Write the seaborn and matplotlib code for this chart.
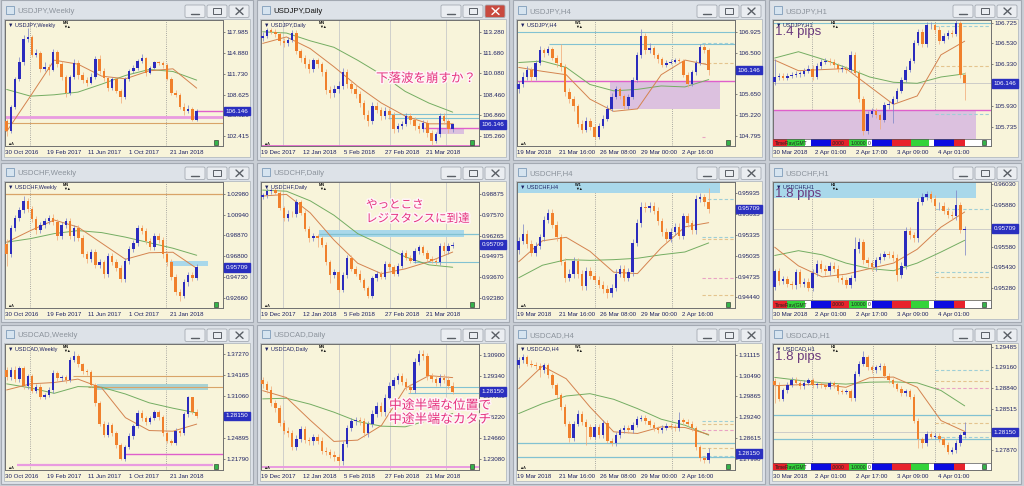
import numpy as np
import seaborn as sns
import matplotlib.pyplot as plt
from matplotlib import patches, patheffects

# ------------------------------------------------------------------ data
jpy_bid, chf_bid, cad_bid = 106.146, 0.95709, 1.28150

weekly_dates = ["30 Oct 2016", "19 Feb 2017", "11 Jun 2017", "1 Oct 2017", "21 Jan 2018"]
daily_dates = ["19 Dec 2017", "12 Jan 2018", "5 Feb 2018", "27 Feb 2018", "21 Mar 2018"]
h4_dates = ["19 Mar 2018", "21 Mar 16:00", "26 Mar 08:00", "29 Mar 00:00", "2 Apr 16:00"]
h1_dates = ["30 Mar 2018", "2 Apr 01:00", "2 Apr 17:00", "3 Apr 09:00", "4 Apr 01:00"]

# USDJPY weekly
jpy_w_open0 = 104.6
jpy_w_close = [103.1, 106.7, 110.9, 113.5, 117.0, 117.3, 114.6, 114.9, 112.5, 112.8,
               112.3, 115.0, 113.2, 111.3, 108.9, 111.2, 113.4, 111.6, 110.8, 110.4,
               111.3, 114.0, 112.2, 111.1, 109.6, 110.9, 109.2, 108.3, 111.0, 112.2,
               112.6, 113.6, 114.1, 111.9, 112.6, 113.5, 113.3, 113.0, 111.0, 108.8,
               108.6, 106.8, 106.2, 106.5, 104.8, 106.15]
jpy_w_high = [105.0, 107.0, 111.3, 114.2, 117.6, 118.6, 117.6, 115.5, 115.2, 113.5,
              113.2, 115.5, 115.3, 113.6, 111.5, 111.6, 114.0, 113.8, 112.0, 111.3,
              111.8, 114.4, 114.5, 112.6, 111.4, 111.3, 111.1, 109.5, 111.3, 112.5,
              113.0, 114.0, 114.7, 114.3, 112.9, 113.7, 113.7, 113.6, 113.3, 111.2,
              109.3, 108.9, 107.3, 107.0, 106.7, 106.4]
jpy_w_low = [102.4, 102.8, 106.5, 110.6, 113.1, 116.5, 114.3, 114.3, 112.0, 112.2,
             111.6, 112.1, 112.8, 110.8, 108.2, 108.6, 110.9, 111.0, 110.3, 109.9,
             110.2, 111.0, 111.7, 110.7, 109.2, 109.3, 108.8, 107.3, 108.0, 110.7,
             111.9, 112.3, 113.3, 111.4, 111.7, 112.4, 113.0, 112.6, 110.8, 108.5,
             108.2, 106.4, 105.6, 105.9, 104.6, 104.6]
jpy_w_fast = [103.1, 108.4, 113.8, 113.2, 111.4, 111.0, 112.2, 112.5, 109.6]
jpy_w_slow = [109.4, 108.4, 108.6, 109.0, 110.2, 111.5, 112.4, 112.1, 110.8]
jpy_w_ticks = [117.985, 114.880, 111.730, 108.625, 105.520, 102.415]
jpy_w_levels = [105.3, 104.3, 106.2]

# USDJPY daily
jpy_d_open0 = 112.8
jpy_d_close = [113.0, 113.4, 113.3, 113.1, 112.6, 112.4, 112.7, 113.2, 111.8, 111.3,
               110.8, 110.4, 111.1, 110.8, 110.2, 108.8, 108.6, 108.9, 109.1, 110.2,
               109.3, 108.9, 108.5, 107.8, 106.9, 106.4, 107.6, 107.3, 106.8, 107.2,
               106.9, 105.8, 106.0, 106.2, 106.8, 106.5, 106.0, 105.8, 106.3, 105.5,
               104.9, 105.4, 106.8, 106.4, 105.8, 106.15]
jpy_d_high = [113.3, 113.6, 113.6, 113.5, 113.3, 112.8, 112.9, 113.4, 113.4, 112.0,
              111.5, 111.2, 111.3, 111.3, 111.0, 110.4, 109.1, 109.2, 109.5, 110.5,
              110.4, 109.6, 109.2, 108.7, 108.0, 107.3, 107.9, 107.9, 107.5, 107.5,
              107.4, 107.1, 106.3, 106.4, 107.0, 107.0, 106.7, 106.3, 106.5, 106.5,
              105.7, 105.6, 107.0, 107.0, 106.6, 106.3]
jpy_d_low = [112.6, 112.8, 113.1, 112.9, 112.3, 112.1, 112.2, 112.5, 111.6, 111.0,
             110.5, 110.1, 110.2, 110.5, 109.9, 108.5, 108.2, 108.3, 108.6, 108.9,
             109.0, 108.6, 108.2, 107.5, 106.6, 106.0, 106.2, 107.0, 106.5, 106.6,
             106.6, 105.5, 105.6, 105.8, 106.0, 106.2, 105.7, 105.5, 105.6, 105.2,
             104.6, 104.7, 105.2, 106.2, 105.5, 105.6]
jpy_d_fast = [112.4, 112.9, 112.0, 110.6, 109.1, 107.8, 106.8, 106.2, 106.2]
jpy_d_slow = [113.3, 113.2, 112.6, 112.1, 111.1, 110.0, 108.7, 107.8, 107.1]
jpy_d_ticks = [113.280, 111.680, 110.080, 108.460, 106.860, 105.260]
jpy_d_levels = [106.93, 106.62, 105.90, 104.52]
jpy_d_zone = [105.40, 105.90]
jpy_d_note = ["下落波を崩すか？"]

# USDJPY H4
jpy_h4_open0 = 105.75
jpy_h4_close = [105.85, 106.0, 106.15, 106.0, 106.3, 106.55, 106.5, 106.58, 106.4, 106.28,
                106.2, 105.7, 105.55, 105.4, 105.05, 104.92, 105.1, 104.98, 104.78, 105.0,
                105.15, 105.35, 105.6, 105.75, 105.62, 105.4, 105.6, 105.95, 106.45, 106.85,
                106.55, 106.6, 106.45, 106.38, 106.25, 106.3, 106.32, 106.35, 106.33, 106.05,
                105.85, 106.1, 106.3, 106.62, 106.55, 106.15]
jpy_h4_high = [105.92, 106.1, 106.22, 106.2, 106.36, 106.63, 106.6, 106.64, 106.62, 106.45,
               106.68, 106.26, 105.78, 105.62, 105.45, 105.12, 105.18, 105.16, 105.04, 105.06,
               105.22, 105.42, 105.68, 105.82, 105.8, 105.66, 105.66, 106.0, 106.52, 106.99,
               106.9, 106.7, 106.64, 106.5, 106.42, 106.36, 106.38, 106.4, 106.4, 106.38,
               106.1, 106.15, 106.36, 106.68, 106.68, 106.6]
jpy_h4_low = [105.68, 105.8, 105.95, 105.93, 105.95, 106.25, 106.42, 106.45, 106.35, 106.2,
              106.12, 105.62, 105.48, 105.3, 104.98, 104.85, 104.88, 104.92, 104.74, 104.74,
              104.95, 105.1, 105.3, 105.55, 105.56, 105.34, 105.35, 105.55, 105.9, 106.4,
              106.48, 106.5, 106.4, 106.3, 106.2, 106.2, 106.26, 106.28, 106.28, 106.0,
              105.8, 105.82, 106.05, 106.25, 106.5, 106.05]
jpy_h4_fast = [106.2, 106.12, 106.05, 105.55, 105.3, 105.35, 106.05, 106.35, 106.25]
jpy_h4_slow = [106.3, 106.33, 106.2, 105.85, 105.72, 105.75, 105.82, 105.8, 105.95]
jpy_h4_ticks = [106.925, 106.500, 105.650, 105.220, 104.795]
jpy_h4_levels = [106.92, 106.67, 105.93]
jpy_h4_zone = [105.34, 105.93]
jpy_h4_dashes = [106.69, 106.30, 104.78]

# USDJPY H1
jpy_h1_open0 = 106.16
jpy_h1_close = [106.21, 106.22, 106.2, 106.22, 106.23, 106.24, 106.24, 106.27, 106.29, 106.21,
                106.31, 106.35, 106.36, 106.35, 106.32, 106.29, 106.29, 106.28, 106.42, 106.25,
                106.0, 105.7, 105.86, 105.89, 105.85, 105.8, 105.94, 105.95, 106.0, 106.08,
                106.18, 106.28, 106.36, 106.53, 106.64, 106.52, 106.7, 106.7, 106.66, 106.55,
                106.6, 106.63, 106.62, 106.72, 106.23, 106.15]
jpy_h1_high = [106.38, 106.25, 106.25, 106.25, 106.26, 106.27, 106.27, 106.3, 106.32, 106.32,
               106.34, 106.38, 106.39, 106.39, 106.38, 106.34, 106.32, 106.31, 106.46, 106.45,
               106.28, 106.03, 105.89, 105.92, 105.92, 105.87, 105.97, 105.98, 106.03, 106.11,
               106.21, 106.31, 106.39, 106.56, 106.67, 106.67, 106.73, 106.73, 106.72, 106.69,
               106.63, 106.66, 106.66, 106.77, 106.74, 106.26]
jpy_h1_low = [106.13, 106.18, 106.18, 106.18, 106.2, 106.21, 106.21, 106.22, 106.25, 106.18,
              106.19, 106.29, 106.33, 106.32, 106.29, 106.26, 106.26, 106.25, 106.26, 106.22,
              105.97, 105.66, 105.67, 105.83, 105.82, 105.72, 105.78, 105.91, 105.77, 105.97,
              106.06, 106.16, 106.26, 106.34, 106.51, 106.49, 106.49, 106.67, 106.63, 106.52,
              106.53, 106.57, 106.59, 106.6, 106.2, 105.99]
jpy_h1_fast = [106.37, 106.27, 106.28, 106.29, 106.12, 105.95, 106.03, 106.42, 106.55]
jpy_h1_slow = [106.39, 106.45, 106.38, 106.3, 106.21, 106.16, 106.15, 106.21, 106.24]
jpy_h1_ticks = [106.725, 106.530, 106.330, 105.930, 105.735]
jpy_h1_levels = [106.72, 105.90, 106.15]
jpy_h1_zone = [105.40, 105.90]
jpy_h1_dashes = [106.69, 106.31, 105.86]

# USDCHF weekly
chf_w_open0 = 0.9800
chf_w_close = [0.9700, 0.9960, 1.0060, 1.0140, 1.0230, 1.0150, 1.0050, 0.9940, 0.9990, 1.0030,
               1.0060, 1.0020, 0.9880, 0.9990, 1.0030, 0.9880, 0.9960, 0.9860, 0.9700, 0.9650,
               0.9720, 0.9590, 0.9620, 0.9500, 0.9680, 0.9620, 0.9560, 0.9450, 0.9630, 0.9750,
               0.9810, 0.9960, 0.9930, 0.9830, 0.9770, 0.9880, 0.9840, 0.9700, 0.9620, 0.9470,
               0.9330, 0.9290, 0.9420, 0.9490, 0.9460, 0.9571]
chf_w_high = [0.985, 0.999, 1.009, 1.017, 1.028, 1.026, 1.018, 1.008, 1.002, 1.006,
              1.009, 1.010, 1.005, 1.002, 1.006, 1.006, 0.999, 0.999, 0.989, 0.973,
              0.975, 0.975, 0.965, 0.964, 0.971, 0.971, 0.965, 0.959, 0.966, 0.978,
              0.984, 0.999, 0.999, 0.996, 0.986, 0.991, 0.991, 0.987, 0.973, 0.965,
              0.950, 0.936, 0.945, 0.952, 0.952, 0.960]
chf_w_low = [0.958, 0.967, 0.993, 1.003, 1.011, 1.012, 1.002, 0.990, 0.991, 0.996,
             1.000, 0.999, 0.984, 0.985, 0.996, 0.985, 0.983, 0.983, 0.967, 0.961,
             0.962, 0.956, 0.956, 0.946, 0.947, 0.959, 0.953, 0.942, 0.942, 0.960,
             0.972, 0.978, 0.990, 0.980, 0.974, 0.974, 0.981, 0.966, 0.958, 0.944,
             0.930, 0.924, 0.927, 0.939, 0.943, 0.944]
chf_w_fast = [0.982, 0.9935, 1.004, 0.997, 0.981, 0.965, 0.9715, 0.972, 0.956]
chf_w_slow = [0.982, 0.9855, 0.9905, 0.9935, 0.9915, 0.987, 0.9815, 0.976, 0.969]
chf_w_ticks = [1.02980, 1.00940, 0.98870, 0.96800, 0.94730, 0.92660]
chf_w_levels = [1.0298]
chf_w_zone = [0.9588, 0.9637]

# USDCHF daily
chf_d_open0 = 0.9870
chf_d_close = [0.9880, 0.9905, 0.9910, 0.9895, 0.9800, 0.9735, 0.9765, 0.9760, 0.9835, 0.9770,
               0.9670, 0.9610, 0.9625, 0.9610, 0.9570, 0.9460, 0.9380, 0.9400, 0.9290, 0.9380,
               0.9490, 0.9420, 0.9390, 0.9350, 0.9300, 0.9250, 0.9360, 0.9390, 0.9370, 0.9450,
               0.9430, 0.9390, 0.9440, 0.9520, 0.9490, 0.9470, 0.9530, 0.9555, 0.9520, 0.9480,
               0.9470, 0.9460, 0.9565, 0.9530, 0.9565, 0.9571]
chf_d_high = [0.9895, 0.9922, 0.9928, 0.9925, 0.9910, 0.9815, 0.9785, 0.9782, 0.9855, 0.9850,
              0.9785, 0.9685, 0.9642, 0.9640, 0.9625, 0.9585, 0.9475, 0.9418, 0.9410, 0.9398,
              0.9508, 0.9505, 0.9435, 0.9410, 0.9365, 0.9315, 0.9378, 0.9408, 0.9405, 0.9468,
              0.9465, 0.9445, 0.9458, 0.9538, 0.9535, 0.9505, 0.9548, 0.9572, 0.9570, 0.9538,
              0.9498, 0.9485, 0.9583, 0.9585, 0.9582, 0.9588]
chf_d_low = [0.9855, 0.9865, 0.9890, 0.9880, 0.9785, 0.9720, 0.9718, 0.9745, 0.9742, 0.9755,
             0.9655, 0.9590, 0.9595, 0.9555, 0.9555, 0.9445, 0.9330, 0.9365, 0.9275, 0.9275,
             0.9365, 0.9405, 0.9375, 0.9335, 0.9285, 0.9235, 0.9235, 0.9345, 0.9355, 0.9355,
             0.9415, 0.9375, 0.9375, 0.9425, 0.9475, 0.9455, 0.9455, 0.9515, 0.9505, 0.9465,
             0.9455, 0.9445, 0.9445, 0.9515, 0.9515, 0.9550]
chf_d_fast = [0.9875, 0.9885, 0.977, 0.9600, 0.9455, 0.9390, 0.9420, 0.9465, 0.9525]
chf_d_slow = [0.9912, 0.9905, 0.9845, 0.9755, 0.9640, 0.9570, 0.9495, 0.9445, 0.9430]
chf_d_ticks = [0.98875, 0.97570, 0.96265, 0.94975, 0.93670, 0.92380]
chf_d_levels = [0.9637, 0.9462]
chf_d_zone = [0.9621, 0.9663]
chf_d_note = ["やっとこさ", "レジスタンスに到達"]

# USDCHF H4
chf_h4_open0 = 0.9512
chf_h4_close = [0.9525, 0.9535, 0.9520, 0.9508, 0.9518, 0.9530, 0.9555, 0.9565, 0.9548, 0.9530,
                0.9495, 0.9472, 0.9477, 0.9496, 0.9478, 0.9460, 0.9482, 0.9475, 0.9469, 0.9462,
                0.9456, 0.9450, 0.9458, 0.9478, 0.9485, 0.9472, 0.9480, 0.9522, 0.9550, 0.9574,
                0.9572, 0.9575, 0.9568, 0.9553, 0.9538, 0.9528, 0.9538, 0.9545, 0.9532, 0.9560,
                0.9550, 0.9540, 0.9585, 0.9588, 0.9580, 0.9571]
chf_h4_high = [0.9530, 0.9549, 0.9540, 0.9526, 0.9523, 0.9535, 0.9560, 0.9571, 0.9570, 0.9553,
               0.9535, 0.9500, 0.9485, 0.9502, 0.9500, 0.9483, 0.9487, 0.9487, 0.9480, 0.9474,
               0.9467, 0.9461, 0.9463, 0.9484, 0.9491, 0.9490, 0.9486, 0.9527, 0.9556, 0.9580,
               0.9581, 0.9580, 0.9580, 0.9573, 0.9558, 0.9543, 0.9543, 0.9550, 0.9550, 0.9565,
               0.9565, 0.9555, 0.9590, 0.9594, 0.9592, 0.9600]
chf_h4_low = [0.9506, 0.9520, 0.9515, 0.9503, 0.9503, 0.9513, 0.9525, 0.9550, 0.9543, 0.9525,
              0.9490, 0.9466, 0.9467, 0.9472, 0.9472, 0.9455, 0.9455, 0.9470, 0.9464, 0.9457,
              0.9450, 0.9443, 0.9445, 0.9453, 0.9473, 0.9467, 0.9467, 0.9475, 0.9517, 0.9545,
              0.9566, 0.9567, 0.9563, 0.9548, 0.9532, 0.9522, 0.9523, 0.9533, 0.9527, 0.9527,
              0.9545, 0.9535, 0.9535, 0.9580, 0.9575, 0.9565]
chf_h4_fast = [0.9495, 0.9525, 0.9530, 0.9510, 0.9480, 0.9478, 0.9515, 0.9545, 0.9551]
chf_h4_slow = [0.9472, 0.9490, 0.9498, 0.9497, 0.9498, 0.9500, 0.9505, 0.9509, 0.9522]
chf_h4_ticks = [0.95935, 0.95635, 0.95335, 0.95035, 0.94735, 0.94440]
chf_h4_zone = [0.9593, 0.9620]
chf_h4_dashes = [0.9585, 0.9531, 0.9527, 0.9471, 0.9447]

# USDCHF H1
chf_h1_open0 = 0.95290
chf_h1_close = [0.95400, 0.95330, 0.95345, 0.95310, 0.95300, 0.95395, 0.95310, 0.95325, 0.95280, 0.95390,
                0.95455, 0.95420, 0.95400, 0.95440, 0.95420, 0.95350, 0.95335, 0.95305, 0.95350, 0.95560,
                0.95610, 0.95480, 0.95460, 0.95430, 0.95480, 0.95505, 0.95525, 0.95520, 0.95500, 0.95375,
                0.95440, 0.95695, 0.95660, 0.95640, 0.95905, 0.95940, 0.95960, 0.95925, 0.95870, 0.95875,
                0.95840, 0.95810, 0.95800, 0.95880, 0.95700, 0.95709]
chf_h1_high = [0.95420, 0.95425, 0.95365, 0.95370, 0.95330, 0.95420, 0.95420, 0.95350, 0.95350, 0.95415,
               0.95480, 0.95480, 0.95445, 0.95465, 0.95465, 0.95445, 0.95375, 0.95360, 0.95375, 0.95650,
               0.95640, 0.95635, 0.95505, 0.95485, 0.95505, 0.95530, 0.95550, 0.95550, 0.95545, 0.95525,
               0.95465, 0.95720, 0.95720, 0.95685, 0.95930, 0.95965, 0.95985, 0.95985, 0.95950, 0.95900,
               0.95900, 0.95865, 0.95835, 0.95990, 0.95905, 0.95730]
chf_h1_low = [0.95265, 0.95305, 0.95310, 0.95285, 0.95275, 0.95275, 0.95285, 0.95290, 0.95255, 0.95255,
              0.95365, 0.95395, 0.95375, 0.95375, 0.95395, 0.95325, 0.95310, 0.95280, 0.95280, 0.95330,
              0.95535, 0.95455, 0.95435, 0.95405, 0.95405, 0.95460, 0.95480, 0.95495, 0.95475, 0.95330,
              0.95350, 0.95415, 0.95635, 0.95615, 0.95615, 0.95880, 0.95915, 0.95900, 0.95845, 0.95845,
              0.95815, 0.95785, 0.95775, 0.95775, 0.95675, 0.95520]
chf_h1_fast = [0.95575, 0.95440, 0.95360, 0.95380, 0.95420, 0.95460, 0.95560, 0.95720, 0.95830]
chf_h1_slow = [0.95515, 0.95550, 0.95520, 0.95460, 0.95420, 0.95405, 0.95460, 0.95540, 0.95625]
chf_h1_ticks = [0.96030, 0.95880, 0.95580, 0.95430, 0.95280]
chf_h1_levels = [0.95709]
chf_h1_zone = [0.95930, 0.96047]
chf_h1_dashes = [0.95855, 0.95396, 0.95360]

# USDCAD weekly
cad_w_open0 = 1.3500
cad_w_close = [1.3390, 1.3500, 1.3360, 1.3520, 1.3260, 1.3400, 1.3190, 1.3250, 1.3100, 1.3130,
               1.3200, 1.3450, 1.3370, 1.3390, 1.3350, 1.3650, 1.3700, 1.3580, 1.3480, 1.3460,
               1.3280, 1.3000, 1.2700, 1.2540, 1.2680, 1.2560, 1.2380, 1.2180, 1.2350, 1.2520,
               1.2660, 1.2860, 1.2780, 1.2720, 1.2780, 1.2870, 1.2800, 1.2560, 1.2450, 1.2420,
               1.2590, 1.2560, 1.2840, 1.3090, 1.2880, 1.2815]
cad_w_high = [1.3540, 1.3540, 1.3550, 1.3560, 1.3560, 1.3440, 1.3430, 1.3290, 1.3290, 1.3160,
              1.3240, 1.3490, 1.3480, 1.3420, 1.3420, 1.3690, 1.3780, 1.3730, 1.3600, 1.3510,
              1.3490, 1.3310, 1.3030, 1.2740, 1.2720, 1.2710, 1.2590, 1.2420, 1.2380, 1.2560,
              1.2700, 1.2900, 1.2900, 1.2810, 1.2820, 1.2910, 1.2900, 1.2830, 1.2590, 1.2480,
              1.2630, 1.2620, 1.2880, 1.3110, 1.3100, 1.2920]
cad_w_low = [1.3350, 1.3350, 1.3320, 1.3320, 1.3220, 1.3220, 1.3150, 1.3150, 1.3060, 1.3060,
             1.3100, 1.3160, 1.3330, 1.3330, 1.3310, 1.3320, 1.3610, 1.3540, 1.3440, 1.3420,
             1.3240, 1.2960, 1.2660, 1.2500, 1.2510, 1.2520, 1.2340, 1.2160, 1.2150, 1.2320,
             1.2480, 1.2630, 1.2740, 1.2680, 1.2690, 1.2750, 1.2760, 1.2520, 1.2410, 1.2380,
             1.2390, 1.2520, 1.2530, 1.2800, 1.2850, 1.2790]
cad_w_fast = [1.3200, 1.3290, 1.3310, 1.3360, 1.3230, 1.2790, 1.2600, 1.2590, 1.2695]
cad_w_slow = [1.3290, 1.3230, 1.3150, 1.3250, 1.3240, 1.3140, 1.3010, 1.2930, 1.2860]
cad_w_ticks = [1.37270, 1.34165, 1.31060, 1.24895, 1.21790]
cad_w_levels = [1.3402, 1.3239, 1.2253, 1.2096]
cad_w_zone = [1.3200, 1.3288]

# USDCAD daily
cad_d_open0 = 1.2900
cad_d_close = [1.2870, 1.2830, 1.2730, 1.2690, 1.2580, 1.2520, 1.2500, 1.2400, 1.2460, 1.2530,
               1.2450, 1.2440, 1.2470, 1.2445, 1.2370, 1.2360, 1.2340, 1.2320, 1.2290, 1.2420,
               1.2540, 1.2590, 1.2600, 1.2590, 1.2500, 1.2570, 1.2650, 1.2710, 1.2660, 1.2770,
               1.2860, 1.2900, 1.2930, 1.2890, 1.2850, 1.2830, 1.3040, 1.3100, 1.3080, 1.2930,
               1.2910, 1.2880, 1.2920, 1.2905, 1.2860, 1.2815]
cad_d_high = [1.2925, 1.2895, 1.2855, 1.2755, 1.2715, 1.2605, 1.2545, 1.2525, 1.2485, 1.2555,
              1.2555, 1.2470, 1.2495, 1.2495, 1.2470, 1.2395, 1.2385, 1.2365, 1.2345, 1.2445,
              1.2565, 1.2615, 1.2625, 1.2625, 1.2615, 1.2595, 1.2675, 1.2735, 1.2735, 1.2795,
              1.2885, 1.2925, 1.2955, 1.2955, 1.2915, 1.2875, 1.3065, 1.3125, 1.3125, 1.3105,
              1.2955, 1.2935, 1.2945, 1.2945, 1.2930, 1.2885]
cad_d_low = [1.2845, 1.2805, 1.2705, 1.2665, 1.2555, 1.2495, 1.2475, 1.2375, 1.2375, 1.2435,
             1.2425, 1.2415, 1.2415, 1.2420, 1.2345, 1.2335, 1.2315, 1.2295, 1.2262, 1.2265,
             1.2395, 1.2515, 1.2565, 1.2565, 1.2475, 1.2475, 1.2545, 1.2625, 1.2635, 1.2635,
             1.2745, 1.2835, 1.2875, 1.2865, 1.2825, 1.2805, 1.2805, 1.3015, 1.3055, 1.2905,
             1.2885, 1.2855, 1.2855, 1.2880, 1.2835, 1.2800]
cad_d_fast = [1.2822, 1.2770, 1.2600, 1.2440, 1.2450, 1.2560, 1.2840, 1.2935, 1.2920]
cad_d_slow = [1.2760, 1.2765, 1.2720, 1.2660, 1.2590, 1.2555, 1.2550, 1.2600, 1.2650]
cad_d_ticks = [1.30900, 1.29340, 1.27780, 1.26220, 1.24660, 1.23080]
cad_d_levels = [1.2847, 1.2808, 1.2245]
cad_d_note = ["中途半端な位置で", "中途半端なカタチ"]

# USDCAD H4
cad_h4_open0 = 1.3080
cad_h4_close = [1.3095, 1.3105, 1.3085, 1.3082, 1.3078, 1.3065, 1.3080, 1.3050, 1.3020, 1.2990,
                1.2955, 1.2905, 1.2860, 1.2905, 1.2935, 1.2910, 1.2895, 1.2865, 1.2895, 1.2870,
                1.2908, 1.2853, 1.2845, 1.2870, 1.2885, 1.2892, 1.2885, 1.2902, 1.2920, 1.2922,
                1.2912, 1.2902, 1.2890, 1.2885, 1.2893, 1.2898, 1.2895, 1.2890, 1.2915, 1.2910,
                1.2905, 1.2890, 1.2833, 1.2800, 1.2795, 1.2815]
cad_h4_high = [1.3105, 1.3115, 1.3112, 1.3095, 1.3090, 1.3087, 1.3088, 1.3088, 1.3058, 1.3028,
               1.2998, 1.2963, 1.2913, 1.2913, 1.2945, 1.2943, 1.2918, 1.2903, 1.2903, 1.2903,
               1.2916, 1.2916, 1.2861, 1.2878, 1.2893, 1.2900, 1.2900, 1.2910, 1.2928, 1.2930,
               1.2930, 1.2920, 1.2910, 1.2898, 1.2901, 1.2906, 1.2906, 1.2903, 1.2940, 1.2923,
               1.2918, 1.2913, 1.2898, 1.2841, 1.2808, 1.2830]
cad_h4_low = [1.3072, 1.3087, 1.3077, 1.3074, 1.3070, 1.3045, 1.3057, 1.3042, 1.3012, 1.2982,
              1.2947, 1.2897, 1.2850, 1.2852, 1.2897, 1.2902, 1.2840, 1.2857, 1.2857, 1.2862,
              1.2862, 1.2845, 1.2837, 1.2837, 1.2862, 1.2877, 1.2877, 1.2877, 1.2894, 1.2912,
              1.2904, 1.2894, 1.2882, 1.2877, 1.2877, 1.2885, 1.2887, 1.2882, 1.2882, 1.2902,
              1.2897, 1.2882, 1.2825, 1.2792, 1.2787, 1.2787]
cad_h4_fast = [1.3010, 1.3078, 1.3040, 1.2955, 1.2880, 1.2875, 1.2895, 1.2893, 1.2872]
cad_h4_slow = [1.2935, 1.2965, 1.2988, 1.2995, 1.2978, 1.2950, 1.2918, 1.2900, 1.2870]
cad_h4_ticks = [1.31115, 1.30490, 1.29865, 1.29240, 1.28615, 1.27990]
cad_h4_levels = [1.2845, 1.2805]
cad_h4_dashes = [1.2914, 1.2904, 1.2886, 1.2831, 1.2808]

# USDCAD H1
cad_h1_open0 = 1.28950
cad_h1_close = [1.28890, 1.28670, 1.28800, 1.28890, 1.28970, 1.28920, 1.28870, 1.28920, 1.28960, 1.28880,
                1.28900, 1.28880, 1.28860, 1.28910, 1.28880, 1.28790, 1.28780, 1.28790, 1.28680, 1.29060,
                1.29220, 1.29320, 1.29160, 1.29120, 1.29160, 1.29190, 1.29030, 1.28960, 1.28900, 1.28830,
                1.28760, 1.28790, 1.28700, 1.28330, 1.28040, 1.27980, 1.28120, 1.28080, 1.28090, 1.28040,
                1.27950, 1.27840, 1.27870, 1.27980, 1.28100, 1.28150]
cad_h1_high = [1.28990, 1.28930, 1.28840, 1.28930, 1.29010, 1.29010, 1.28960, 1.28960, 1.29000, 1.29000,
               1.28940, 1.28940, 1.28920, 1.28950, 1.28950, 1.28920, 1.28830, 1.28830, 1.28830, 1.29100,
               1.29260, 1.29420, 1.29360, 1.29200, 1.29200, 1.29230, 1.29230, 1.29070, 1.29000, 1.28940,
               1.28870, 1.28830, 1.28830, 1.28740, 1.28370, 1.28080, 1.28160, 1.28160, 1.28130, 1.28130,
               1.28080, 1.27990, 1.27910, 1.28020, 1.28140, 1.28300]
cad_h1_low = [1.28600, 1.28630, 1.28630, 1.28760, 1.28850, 1.28880, 1.28830, 1.28830, 1.28880, 1.28840,
              1.28840, 1.28840, 1.28820, 1.28820, 1.28840, 1.28750, 1.28740, 1.28740, 1.28640, 1.28640,
              1.29020, 1.29180, 1.29120, 1.29080, 1.29080, 1.29120, 1.28990, 1.28920, 1.28860, 1.28790,
              1.28720, 1.28720, 1.28660, 1.28290, 1.27900, 1.27900, 1.27940, 1.28040, 1.28040, 1.28000,
              1.27910, 1.27800, 1.27800, 1.27830, 1.27940, 1.28060]
cad_h1_fast = [1.28875, 1.28890, 1.28895, 1.28850, 1.29000, 1.29010, 1.28850, 1.28330, 1.28160]
cad_h1_slow = [1.29005, 1.28960, 1.28920, 1.28900, 1.28930, 1.28935, 1.28920, 1.28800, 1.28560]
cad_h1_ticks = [1.29485, 1.29160, 1.28840, 1.28515, 1.28190, 1.27870]
cad_h1_levels = [1.28417, 1.28041, 1.28150]
cad_h1_dashes = [1.2912, 1.2895, 1.2884, 1.2829, 1.2807]

pips_text = ["1.4 pips", "1.8 pips", "1.8 pips"]

# ------------------------------------------------------------------ style
CREAM = "#f8f4da"
FRAME = "#dde2e8"
NAVY = "#1d2163"
BULL, BEAR = "#2b2bbd", "#f0802c"
BULL_WICK, BEAR_WICK = "#8088c8", "#f2ad7c"
MA_FAST, MA_SLOW = "#d4834f", "#74ad62"
MAGENTA = "#df5fcb"
PINK_BAND = "#e99be0"
TAN = "#d9a468"
TEAL = "#82c2d2"
GREY = "#c6c6c6"
ZONE_PURPLE = "#dcc1df"
ZONE_BLUE = "#a9d8ea"
ZONE_TEAL = "#a9d2d2"
D_TEAL, D_TAN, D_PINK = "#9fcfd6", "#e4c48e", "#e9a3c4"
BID_BLUE = "#2a2fbf"
NOTE_PINK = "#e5337f"

X0_PX, STEP_PX = 6.7, 4.222          # first candle centre, candle spacing (panel px)


def px_to_idx(px):
    return (px - X0_PX) / STEP_PX


XL, XR = px_to_idx(5), px_to_idx(223)
DASH_W = px_to_idx(190)
DASH_H1 = px_to_idx(167)
DASH = (0, (3, 2))

SEPARATORS = {"W": [30, 166], "D": [26.7, 83.3, 134.3, 190], "H4": [82.7, 160], "H1": [44.3, 105.3, 166.7]}
DATES = {"W": weekly_dates, "D": daily_dates, "H4": h4_dates, "H1": h1_dates}
BADGE = {"W": "MN", "D": "MN", "H4": "W1", "H1": "H4"}
DATE_PX = [5, 47, 88, 129, 170]


def spec(title, tf, o0, c, h, l, f, s, ticks, ylim, bid, fmt, lines=(), zones=(), note=None, pips=None, active=False):
    return dict(title=title, tf=tf, open0=o0, close=c, high=h, low=l, fast=f, slow=s, ticks=ticks,
                ylim=ylim, bid=bid, fmt=fmt, lines=list(lines), zones=list(zones), note=note,
                pips=pips, active=active)


J, F = "{:.3f}", "{:.5f}"
PANELS = [
    spec("USDJPY,Weekly", "W", jpy_w_open0, jpy_w_close, jpy_w_high, jpy_w_low, jpy_w_fast, jpy_w_slow,
         jpy_w_ticks, (100.91, 119.83), jpy_bid, J,
         lines=[(jpy_w_levels[0], XL, XR, PINK_BAND, 2.0, "-"), (jpy_w_levels[1], XL, XR, TAN, 0.8, "-"),
                (jpy_w_levels[2], 44.6, XR, MAGENTA, 1.0, "-")]),
    spec("USDJPY,Daily", "D", jpy_d_open0, jpy_d_close, jpy_d_high, jpy_d_low, jpy_d_fast, jpy_d_slow,
         jpy_d_ticks, (104.49, 114.205), jpy_bid, J,
         lines=[(jpy_d_levels[0], 29.6, XR, TEAL, 0.8, "-"), (jpy_d_levels[1], 29.6, XR, TEAL, 0.8, "-"),
                (jpy_d_levels[2], 38.3, XR, MAGENTA, 1.0, "-"), (jpy_d_levels[3], XL, XR, MAGENTA, 1.2, "-")],
         zones=[(jpy_d_zone[0], jpy_d_zone[1], 41.4, 47.75, ZONE_PURPLE)],
         note=(jpy_d_note, 120, [78.5], 9.0), active=True),
    spec("USDJPY,H4", "H4", jpy_h4_open0, jpy_h4_close, jpy_h4_high, jpy_h4_low, jpy_h4_fast, jpy_h4_slow,
         jpy_h4_ticks, (104.590, 107.171), jpy_bid, J,
         lines=[(jpy_h4_levels[0], XL, XR, TEAL, 0.8, "-"), (jpy_h4_levels[1], 7.1, XR, TEAL, 0.8, "-"),
                (jpy_h4_levels[2], XL, XR, MAGENTA, 1.0, "-"),
                (jpy_h4_dashes[0], DASH_W, XR, D_TEAL, 0.8, DASH), (jpy_h4_dashes[1], DASH_W, XR, D_TAN, 0.8, DASH),
                (jpy_h4_dashes[2], DASH_W, XR - 7, D_PINK, 0.8, DASH)],
         zones=[(jpy_h4_zone[0], jpy_h4_zone[1], 21.7, 47.75, ZONE_PURPLE)]),
    spec("USDJPY,H1", "H1", jpy_h1_open0, jpy_h1_close, jpy_h1_high, jpy_h1_low, jpy_h1_fast, jpy_h1_slow,
         jpy_h1_ticks, (105.555, 106.751), jpy_bid, J,
         lines=[(jpy_h1_levels[0], XL, XR, TEAL, 0.8, "-"), (jpy_h1_levels[1], XL, XR, MAGENTA, 1.0, "-"),
                (jpy_h1_levels[2], XL, XR, GREY, 0.6, "-"),
                (jpy_h1_dashes[0], DASH_H1, XR, D_TEAL, 0.8, DASH), (jpy_h1_dashes[1], DASH_H1, XR, D_TAN, 0.8, DASH),
                (jpy_h1_dashes[2], DASH_H1, XR, D_TEAL, 0.8, DASH)],
         zones=[(jpy_h1_zone[0], jpy_h1_zone[1], XL, 47.75, ZONE_PURPLE)], pips=pips_text[0]),
    spec("USDCHF,Weekly", "W", chf_w_open0, chf_w_close, chf_w_high, chf_w_low, chf_w_fast, chf_w_slow,
         chf_w_ticks, (0.91668, 1.04171), chf_bid, F,
         lines=[(chf_w_levels[0], XL, XR, TAN, 0.9, "-")],
         zones=[(chf_w_zone[0], chf_w_zone[1], 38.7, 47.75, ZONE_BLUE)]),
    spec("USDCHF,Daily", "D", chf_d_open0, chf_d_close, chf_d_high, chf_d_low, chf_d_fast, chf_d_slow,
         chf_d_ticks, (0.91755, 0.99625), chf_bid, F,
         lines=[(chf_d_levels[0], 13.4, XR, TEAL, 0.9, "-"), (chf_d_levels[1], 35.5, XR, TEAL, 0.8, "-")],
         zones=[(chf_d_zone[0], chf_d_zone[1], 13.4, 47.75, ZONE_BLUE)],
         note=(chf_d_note, 110, [42.5, 56.5], 8.3)),
    spec("USDCHF,H4", "H4", chf_h4_open0, chf_h4_close, chf_h4_high, chf_h4_low, chf_h4_fast, chf_h4_slow,
         chf_h4_ticks, (0.94287, 0.96093), chf_bid, F,
         lines=[(chf_h4_dashes[0], DASH_W, XR, D_TEAL, 0.8, DASH), (chf_h4_dashes[1], DASH_W, XR, D_TEAL, 0.8, DASH),
                (chf_h4_dashes[2], DASH_W, XR, D_TAN, 0.8, DASH), (chf_h4_dashes[3], DASH_W, XR, D_PINK, 0.8, DASH),
                (chf_h4_dashes[4], DASH_W, XR, D_TAN, 0.8, DASH)],
         zones=[(chf_h4_zone[0], chf_h4_zone[1], XL, 47.75, ZONE_BLUE)]),
    spec("USDCHF,H1", "H1", chf_h1_open0, chf_h1_close, chf_h1_high, chf_h1_low, chf_h1_fast, chf_h1_slow,
         chf_h1_ticks, (0.95135, 0.96047), chf_bid, F,
         lines=[(chf_h1_levels[0], XL, XR, GREY, 0.6, "-"),
                (chf_h1_dashes[0], DASH_H1, XR, D_TEAL, 0.8, DASH), (chf_h1_dashes[1], DASH_H1, XR, D_TEAL, 0.8, DASH),
                (chf_h1_dashes[2], DASH_H1, XR, D_TAN, 0.8, DASH)],
         zones=[(chf_h1_zone[0], chf_h1_zone[1], XL, 47.75, ZONE_BLUE)], pips=pips_text[1]),
    spec("USDCAD,Weekly", "W", cad_w_open0, cad_w_close, cad_w_high, cad_w_low, cad_w_fast, cad_w_slow,
         cad_w_ticks, (1.20164, 1.38793), cad_bid, F,
         lines=[(cad_w_levels[0], 15.8, XR, TAN, 0.8, "-"), (cad_w_levels[1], 19.3, XR, TAN, 0.8, "-"),
                (cad_w_levels[2], 28.0, XR, MAGENTA, 1.0, "-"), (cad_w_levels[3], 2.4, 48.9, PINK_BAND, 1.6, "-")],
         zones=[(cad_w_zone[0], cad_w_zone[1], 21.3, 47.75, ZONE_TEAL)]),
    spec("USDCAD,Daily", "D", cad_d_open0, cad_d_close, cad_d_high, cad_d_low, cad_d_fast, cad_d_slow,
         cad_d_ticks, (1.22253, 1.31727), cad_bid, F,
         lines=[(cad_d_levels[0], 34.3, XR, TEAL, 0.8, "-"), (cad_d_levels[1], 34.3, XR, TEAL, 0.8, "-"),
                (cad_d_levels[2], XL, XR, PINK_BAND, 1.4, "-")],
         note=(cad_d_note, 133, [81.5, 95.5], 9.2)),
    spec("USDCAD,H4", "H4", cad_h4_open0, cad_h4_close, cad_h4_high, cad_h4_low, cad_h4_fast, cad_h4_slow,
         cad_h4_ticks, (1.27649, 1.31447), cad_bid, F,
         lines=[(cad_h4_levels[0], XL, XR, TEAL, 0.9, "-"), (cad_h4_levels[1], XL, XR, TEAL, 0.9, "-"),
                (cad_h4_dashes[0], DASH_W, XR, D_TEAL, 0.8, DASH), (cad_h4_dashes[1], DASH_W, XR, D_TAN, 0.8, DASH),
                (cad_h4_dashes[2], DASH_W, XR, D_PINK, 0.8, DASH), (cad_h4_dashes[3], DASH_W, XR, D_TAN, 0.8, DASH),
                (cad_h4_dashes[4], DASH_W, XR, D_TEAL, 0.8, DASH)]),
    spec("USDCAD,H1", "H1", cad_h1_open0, cad_h1_close, cad_h1_high, cad_h1_low, cad_h1_fast, cad_h1_slow,
         cad_h1_ticks, (1.27557, 1.29527), cad_bid, F,
         lines=[(cad_h1_levels[0], XL, XR, TEAL, 0.9, "-"), (cad_h1_levels[1], XL, XR, TEAL, 0.9, "-"),
                (cad_h1_levels[2], XL, XR, GREY, 0.6, "-"),
                (cad_h1_dashes[0], DASH_H1, XR, D_TEAL, 0.8, DASH), (cad_h1_dashes[1], DASH_H1, XR, D_TAN, 0.8, DASH),
                (cad_h1_dashes[2], DASH_H1, XR, D_PINK, 0.8, DASH), (cad_h1_dashes[3], DASH_H1, XR, D_TAN, 0.8, DASH),
                (cad_h1_dashes[4], DASH_H1, XR, D_TEAL, 0.8, DASH)],
         pips=pips_text[2]),
]

# segments of the time-bar indicator on the H1 charts (panel px)
TIMEBAR = [(5, 19, "#e8222c"), (19, 37, "#33d33a"), (37, 43, "white"), (43, 63, "#0c0ce0"),
           (63, 81, "#e8222c"), (81, 99, "#33d33a"), (99, 104, "white"), (104, 124, "#0c0ce0"),
           (124, 143, "#e8222c"), (143, 161, "#33d33a"), (161, 166, "white"), (166, 186, "#0c0ce0"),
           (186, 197, "#e8222c"), (197, 223, "white")]


def frac(px, py):
    return (px - 5) / 218, (146 - py) / 126


def draw_window(cv, ox, oy, p):
    active = p["active"]
    cv.add_patch(patches.Rectangle((ox + 0.5, oy + 0.5), 252, 159.5, fc=FRAME, ec="#a3a9b2", lw=0.8, zorder=1))
    cv.add_patch(patches.Rectangle((ox + 4, oy + 19), 245.5, 138, fc=CREAM, ec="#b4bac2", lw=0.6, zorder=2))
    cv.add_patch(patches.Rectangle((ox + 6, oy + 6), 8, 8, fc="#d6e4f0", ec="#7f9cb9", lw=0.6, zorder=2))
    cv.text(ox + 17, oy + 11.5, p["title"], fontsize=5.6, color="#111111" if active else "#8c939c",
            va="center", ha="left", zorder=3)
    for j, bx in enumerate((185, 207, 229)):
        red = active and j == 2
        cv.add_patch(patches.FancyBboxPatch((ox + bx, oy + 5), 20, 12.5,
                                            boxstyle="round,pad=0,rounding_size=1.5",
                                            fc="#c94a3f" if red else "#eaedf1", ec="#a5abb3", lw=0.6, zorder=2))
    ink = "#5a5f66"
    cv.plot([ox + 191, ox + 199], [oy + 14, oy + 14], color=ink, lw=1.0, zorder=3)
    cv.add_patch(patches.Rectangle((ox + 213, oy + 8), 8, 6, fc="none", ec=ink, lw=0.7, zorder=3))
    xc = "white" if active else ink
    cv.plot([ox + 236, ox + 243], [oy + 8, oy + 14.5], color=xc, lw=1.0, zorder=3)
    cv.plot([ox + 236, ox + 243], [oy + 14.5, oy + 8], color=xc, lw=1.0, zorder=3)
    for dx, lab in zip(DATE_PX, DATES[p["tf"]]):
        cv.text(ox + dx, oy + 152, lab, fontsize=4.4, color=NAVY, va="center", ha="left", zorder=3)


def draw_chart(ax, p):
    c = np.asarray(p["close"], float)
    n = min(len(c), len(p["high"]), len(p["low"]))
    c = c[:n]
    hi = np.asarray(p["high"][:n], float)
    lo = np.asarray(p["low"][:n], float)
    o = np.r_[p["open0"], c[:-1]]
    x = np.arange(n)
    up = c >= o
    y0, y1 = p["ylim"]

    for sx in SEPARATORS[p["tf"]]:
        if p["tf"] == "D":
            ax.axvline(px_to_idx(sx), color="#c9c9c9", lw=0.6, zorder=0.5)
        else:
            ax.axvline(px_to_idx(sx), color="#8f8f8f", lw=0.6, ls=(0, (1, 1.6)), zorder=0.5)

    for zlo, zhi, zx0, zx1, zc in p["zones"]:
        ax.add_patch(patches.Rectangle((zx0, zlo), zx1 - zx0, zhi - zlo, fc=zc, ec="none", zorder=1))
    for price, lx0, lx1, lc, lw, ls in p["lines"]:
        ax.hlines(price, lx0, lx1, colors=lc, lw=lw, linestyles=ls, zorder=1.5)

    knots = np.linspace(0, n - 1, len(p["fast"]))
    sns.lineplot(x=knots, y=p["slow"], ax=ax, color=MA_SLOW, linewidth=0.7, zorder=2)
    sns.lineplot(x=knots, y=p["fast"], ax=ax, color=MA_FAST, linewidth=0.7, zorder=2)

    ax.vlines(x, lo, hi, colors=np.where(up, BULL_WICK, BEAR_WICK), lw=0.55, zorder=3)
    body = np.maximum(np.abs(c - o), (y1 - y0) * 0.004)
    ax.bar(x, body, bottom=np.minimum(o, c), width=0.58, color=np.where(up, BULL, BEAR), lw=0, zorder=4)

    ax.set_xlim(XL, XR)
    ax.set_ylim(y0, y1)
    ax.set_facecolor(CREAM)
    ax.grid(False)
    ax.set_xticks([])
    ax.yaxis.tick_right()
    ax.set_yticks(p["ticks"])
    ax.set_yticklabels([p["fmt"].format(t) for t in p["ticks"]])
    ax.tick_params(axis="y", length=1.5, width=0.5, pad=0.8, labelsize=4.5, labelcolor=NAVY, color="#555555")
    ax.set_xlabel("")
    ax.set_ylabel("")
    for sp in ax.spines.values():
        sp.set_color("#6f6f6f")
        sp.set_linewidth(0.7)

    # symbol label, higher-timeframe badge and corner icons
    fx, fy = frac(8, 25)
    ax.text(fx, fy, "▼ " + p["title"], transform=ax.transAxes, fontsize=4.0, color=NAVY,
            va="center", ha="left", zorder=8)
    fx, fy = frac(63, 25)
    ax.text(fx, fy, BADGE[p["tf"]] + "\n▼▲", transform=ax.transAxes, fontsize=2.8, color="#111111",
            va="center", ha="left", linespacing=0.9, fontweight="bold", zorder=8)
    fx, fy = frac(213.5, 146 - 1.5)
    ax.add_patch(patches.Rectangle((fx, fy), 4.5 / 218, 4.5 / 126, transform=ax.transAxes,
                                   fc="#35b24a", ec="#222222", lw=0.4, zorder=8, clip_on=False))

    if p["tf"] == "H1":
        for s0, s1, sc in TIMEBAR:
            ax.add_patch(patches.Rectangle(((s0 - 5) / 218, 0), (s1 - s0) / 218, 7.5 / 126,
                                           transform=ax.transAxes, fc=sc, ec="none", zorder=7))
        ax.axhline(y0 + (y1 - y0) * 7.5 / 126, color="#555555", lw=0.5, zorder=7)
        for tx, tl in [(7, "TimeRav(GMT"), (64, ".0000"), (83, "1.0000"), (100, "0")]:
            fx, fy = frac(tx, 143)
            ax.text(fx, fy, tl, transform=ax.transAxes, fontsize=3.6, color="#222222",
                    va="center", ha="left", zorder=8)
    else:
        fx, fy = frac(7, 144)
        ax.text(fx, fy, "▲A", transform=ax.transAxes, fontsize=3.0, color="#222222",
                va="center", ha="left", zorder=8)

    if p["pips"]:
        fx, fy = frac(7, 32.5)
        ax.text(fx, fy, p["pips"], transform=ax.transAxes, fontsize=9.5, color="#6b3a7e",
                va="center", ha="left", zorder=9)

    if p["note"]:
        lines, nx, nys, size = p["note"]
        for txt, ny in zip(lines, nys):
            fx, fy = frac(nx, ny)
            ax.text(fx, fy, txt, transform=ax.transAxes, fontsize=size, color=NOTE_PINK,
                    family=["Noto Sans CJK JP", "DejaVu Sans"], va="center", ha="left", zorder=9,
                    clip_on=False,
                    path_effects=[patheffects.withStroke(linewidth=2.2, foreground="#fff4f8")])

    ax.text(1.012, p["bid"], p["fmt"].format(p["bid"]), transform=ax.get_yaxis_transform(),
            ha="left", va="center", fontsize=4.5, color="white", zorder=10, clip_on=False,
            bbox=dict(boxstyle="square,pad=0.28", fc=BID_BLUE, ec=BID_BLUE))


sns.set_theme(style="white")
plt.rcParams["font.family"] = ["Liberation Sans", "DejaVu Sans", "Noto Sans CJK JP"]

fig = plt.figure(figsize=(10.24, 4.86), dpi=100)
fig.patch.set_facecolor("#c9ced5")
cv = fig.add_axes([0, 0, 1, 1], zorder=0)
cv.axis("off")

for k, p in enumerate(PANELS):
    row, col = divmod(k, 4)
    ox, oy = col * 256, row * 162
    draw_window(cv, ox, oy, p)
    ax = fig.add_axes([(ox + 5) / 1024, 1 - (oy + 146) / 486, 218 / 1024, 126 / 486], zorder=1)
    draw_chart(ax, p)

cv.set_xlim(0, 1024)
cv.set_ylim(486, 0)

fig.savefig("out.png", dpi=100, facecolor=fig.get_facecolor())
